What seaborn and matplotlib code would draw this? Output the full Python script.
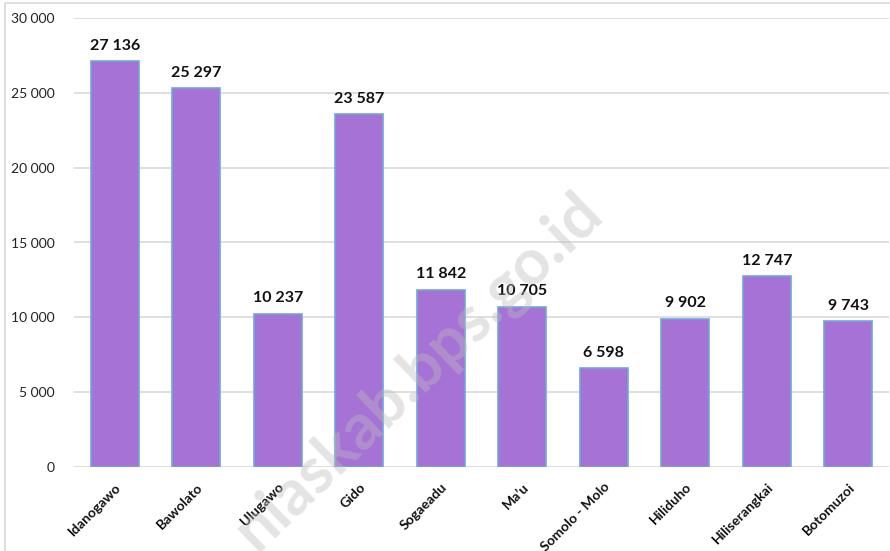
import matplotlib
matplotlib.use('agg')
import matplotlib.pyplot as plt
from matplotlib.patches import Rectangle
import seaborn as sns
import pandas as pd

kecamatan = ["Idanogawo", "Bawolato", "Ulugawo", "Gido", "Sogaeadu", "Ma\u2019u",
             "Somolo - Molo", "Hiliduho", "Hiliserangkai", "Botomuzoi"]
penduduk = [27136, 25297, 10237, 23587, 11842, 10705, 6598, 9902, 12747, 9743]
y_ticks = [0, 5000, 10000, 15000, 20000, 25000, 30000]


def fmt(v):
    # thousands separated by a space
    return "{:,}".format(v).replace(",", " ")


sns.set_theme(style="white")
plt.rcParams['font.family'] = ['Lato', 'DejaVu Sans']

df = pd.DataFrame({"kecamatan": kecamatan, "penduduk": penduduk})

fig = plt.figure(figsize=(8.9, 5.51), dpi=100)
ax = fig.add_axes([74 / 890, 84 / 551, 815 / 890, 449 / 551])

sns.barplot(data=df, x="kecamatan", y="penduduk", color="#A672D6", saturation=1,
            width=0.59, edgecolor="#6FA8DC", linewidth=1.2, ax=ax, zorder=3)

ax.set_ylim(0, 30000)
ax.set_yticks(y_ticks)
ax.set_yticklabels([fmt(t) for t in y_ticks], fontsize=10, color="#222222")
ax.grid(axis="y", color="#D9D9D9", linewidth=1.2, zorder=0)
ax.set_axisbelow(True)
for s in ax.spines.values():
    s.set_visible(False)
ax.tick_params(axis="both", length=0)
ax.tick_params(axis="y", pad=14)
ax.tick_params(axis="x", pad=10)
ax.set_xlabel("")
ax.set_ylabel("")
ax.set_xlim(-0.5, len(kecamatan) - 0.5)
ax.set_xticks(range(len(kecamatan)))
ax.set_xticklabels(kecamatan, rotation=45, ha="right", rotation_mode="anchor",
                   fontsize=10, fontweight="bold", color="#111111")

for i, v in enumerate(penduduk):
    ax.annotate(fmt(v), (i, v), xytext=(0, 6), textcoords="offset points",
                ha="center", va="bottom", fontsize=11.5, fontweight="bold",
                color="#111111", zorder=5)

# outer chart frame
fig.patches.append(Rectangle((5 / 890, -0.1), 1.2, (548 / 551) + 0.1,
                             transform=fig.transFigure, fill=False,
                             edgecolor="#D9D9D9", linewidth=1.2))

# watermark
fig.text(592 / 890, 1 - 203 / 551, "niaskab.bps.go.id", rotation=44,
         rotation_mode="anchor", ha="right", va="center", fontsize=46,
         fontweight="bold", color="#BBBBBB", alpha=0.4, zorder=10)

plt.savefig("out.png", dpi=100)
